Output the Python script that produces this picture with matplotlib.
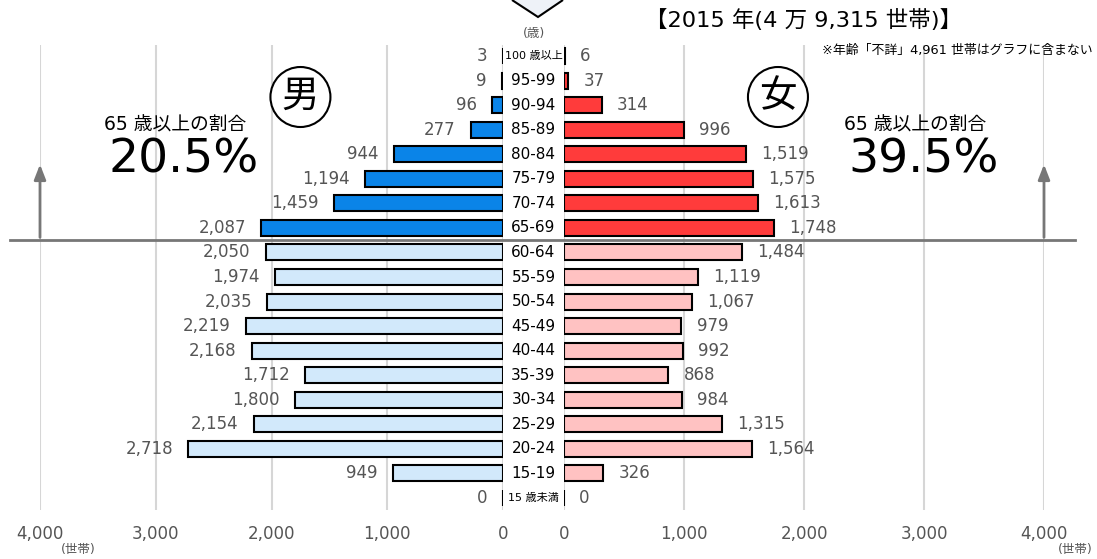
import numpy as np
import matplotlib.pyplot as plt
import matplotlib.transforms as mtransforms
from matplotlib.lines import Line2D

# latin digits from DejaVu (wide), kanji/kana fall back to Noto CJK
plt.rcParams['font.family'] = ['DejaVu Sans', 'Noto Sans CJK JP']

# age groups, bottom to top
ages = ['15 歳未満', '15-19', '20-24', '25-29', '30-34', '35-39', '40-44', '45-49',
        '50-54', '55-59', '60-64', '65-69', '70-74', '75-79', '80-84', '85-89',
        '90-94', '95-99', '100 歳以上']
male = [0, 949, 2718, 2154, 1800, 1712, 2168, 2219, 2035, 1974, 2050,
        2087, 1459, 1194, 944, 277, 96, 9, 3]
female = [0, 326, 1564, 1315, 984, 868, 992, 979, 1067, 1119, 1484,
          1748, 1613, 1575, 1519, 996, 314, 37, 6]
xticks = [0, 1000, 2000, 3000, 4000]
xtick_labels = ['0', '1,000', '2,000', '3,000', '4,000']
old_start = 11  # index of 65-69

W, H = 1097, 559
fig = plt.figure(figsize=(W / 100, H / 100), dpi=100)

y_top, y_bot = 45, 510
rows_top, rows_bot = 56, 498
step = (rows_bot - rows_top) / (len(ages) - 1)
ylim = (-(y_bot - rows_bot) / step, len(ages) - 1 + (rows_top - y_top) / step)

axL = fig.add_axes([40 / W, (H - y_bot) / H, 463 / W, (y_bot - y_top) / H])
axR = fig.add_axes([564 / W, (H - y_bot) / H, 480 / W, (y_bot - y_top) / H])

y = np.arange(len(ages))
male_c = ['#0a84e8' if i >= old_start else '#d2e9fb' for i in y]
female_c = ['#ff3b3b' if i >= old_start else '#ffc2c2' for i in y]

grey = '#555555'
for ax, vals, cols, side in [(axL, male, male_c, -1), (axR, female, female_c, 1)]:
    ax.set_xlim(4000, 0) if side < 0 else ax.set_xlim(0, 4000)
    ax.set_ylim(*ylim)
    for t in xticks:
        ax.axvline(t, color='#d6d6d6', lw=1.5, zorder=0)
    ax.barh(y, vals, height=0.65, color=cols, edgecolor='black', lw=1.5, zorder=2)
    for yi, v in zip(y, vals):
        ax.annotate(f'{v:,}', (v, yi), xytext=(side * 11, 0), textcoords='offset points',
                    ha='right' if side < 0 else 'left', va='center',
                    fontsize=12, color=grey)
    ax.set_xticks(xticks)
    ax.set_xticklabels(xtick_labels, fontsize=12, color=grey)
    ax.set_yticks([])
    ax.tick_params(axis='x', length=0, pad=11)
    for s in ax.spines.values():
        s.set_visible(False)
    ax.set_facecolor('none')

# age labels in the center column
tr = mtransforms.blended_transform_factory(fig.transFigure, axL.transData)
cx = 533.5 / W
for yi, lab in zip(y, ages):
    fs = 8 if '歳' in lab else 11
    fig.text(cx, yi, lab, transform=tr, ha='center', va='center', fontsize=fs, color='black')
fig.text(cx + 1 / W, 1 - 33 / H, '(歳)', ha='center', va='center', fontsize=9, color=grey)

# separator line between 64 and 65
fig.add_artist(Line2D([10 / W, 1075 / W], [old_start - 0.5] * 2, transform=tr,
                      color='#777777', lw=2, zorder=1))

# arrows
for ax in (axL, axR):
    ax.annotate('', xy=(4000, 13.7), xytext=(4000, old_start - 0.5),
                arrowprops=dict(arrowstyle='-|>,head_length=0.9,head_width=0.35',
                                color='#777777', lw=2), annotation_clip=False)

# chevron at the top
fig.add_artist(plt.Polygon([[512 / W, 1.0], [538 / W, 1 - 17 / H], [563 / W, 1.0]],
                           closed=False, transform=fig.transFigure,
                           facecolor='#eef2f8', edgecolor='black', lw=1.5))

# gender circles
axL.text(1750, 16.33, '男', ha='center', va='center', fontsize=27,
         bbox=dict(boxstyle='circle,pad=0.3', fc='white', ec='black', lw=1.5), zorder=5)
axR.text(1783, 16.33, '女', ha='center', va='center', fontsize=27,
         bbox=dict(boxstyle='circle,pad=0.3', fc='white', ec='black', lw=1.5), zorder=5)

# share of 65+
fig.text(175 / W, 1 - 125 / H, '65 歳以上の割合', ha='center', va='center', fontsize=13.5)
fig.text(184 / W, 1 - 160 / H, '20.5%', ha='center', va='center', fontsize=34)
fig.text(915 / W, 1 - 125 / H, '65 歳以上の割合', ha='center', va='center', fontsize=13.5)
fig.text(924 / W, 1 - 160 / H, '39.5%', ha='center', va='center', fontsize=34)

# titles and notes
fig.text(645 / W, 1 - 20 / H, '【2015 年(4 万 9,315 世帯)】', ha='left', va='center', fontsize=16.2)
fig.text(1093 / W, 1 - 50 / H, '※年齢「不詳」4,961 世帯はグラフに含まない', ha='right', va='center',
         fontsize=9.3)
fig.text(78 / W, 1 - 549 / H, '(世帯)', ha='center', va='center', fontsize=9, color=grey)
fig.text(1075 / W, 1 - 549 / H, '(世帯)', ha='center', va='center', fontsize=9, color=grey)

fig.savefig('out.png', dpi=100)
